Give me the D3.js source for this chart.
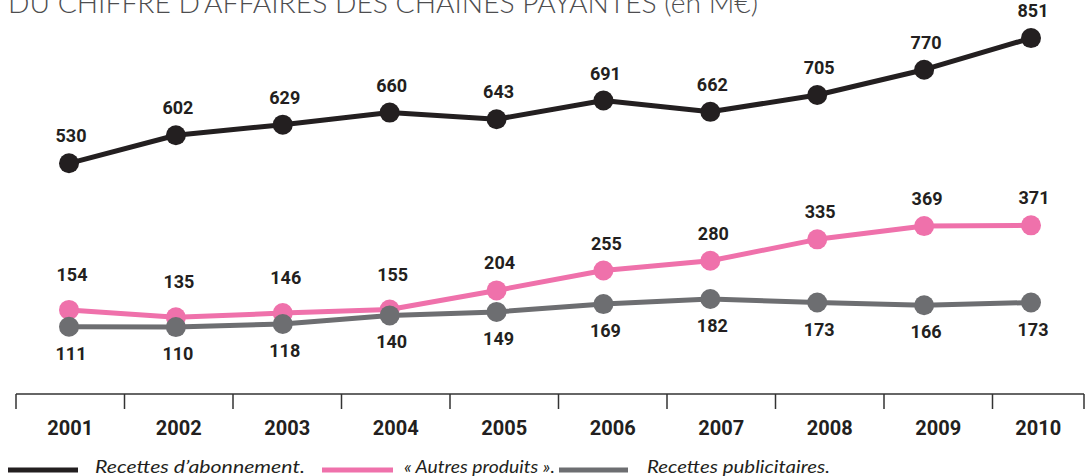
<!DOCTYPE html>
<html>
<head>
<meta charset="utf-8">
<script src="https://cdn.jsdelivr.net/npm/d3@7"></script>
<style>
  html, body { margin: 0; padding: 0; background: #fff; }
  svg { display: block; }
</style>
</head>
<body>
<svg id="chart" width="1087" height="476"></svg>
<script>
// Chiffre d'affaires des chaînes payantes, 2001-2010 (M€)
const years = [2001, 2002, 2003, 2004, 2005, 2006, 2007, 2008, 2009, 2010];
const abonnement = [530, 602, 629, 660, 643, 691, 662, 705, 770, 851];
const autresProduits = [154, 135, 146, 155, 204, 255, 280, 335, 369, 371];
const publicite = [111, 110, 118, 140, 149, 169, 182, 173, 166, 173];
const titleText = "DU CHIFFRE D’AFFAIRES DES CHAÎNES PAYANTES (en M€)";
const legendLabels = ["Recettes d’abonnement.", "« Autres produits ».", "Recettes publicitaires."];

const INK = "#231f20", PINK = "#ef71ab", GREY = "#6d6e71";
const svg = d3.select("#chart");

const axisStart = 16, axisEnd = 1084, axisY = 394;
const xBand = d3.scaleBand().domain(years).range([axisStart, 1101]);
const xPoint = d3.scalePoint().domain(years).range([69, 1031]);
const y = d3.scaleLinear().domain([0, 900]).range([370, 19]);

// Title (partly clipped at the top edge)
const title = svg.append("text")
  .attr("x", 8).attr("y", 13)
  .attr("font-family", "Lato, 'Open Sans', sans-serif")
  .attr("font-weight", 300)
  .attr("font-size", 27)
  .attr("fill", "#4d4d4f")
  .text(titleText);
title.attr("textLength", 750).attr("lengthAdjust", "spacingAndGlyphs");

// Year axis: baseline, ticks at band boundaries, labels centred in each band
const axis = svg.append("g");
axis.append("line")
  .attr("x1", axisStart).attr("x2", axisEnd)
  .attr("y1", axisY).attr("y2", axisY)
  .attr("stroke", "#333").attr("stroke-width", 1.5);
const bounds = years.map(d => xBand(d)).concat([axisEnd]);
axis.selectAll("line.tick").data(bounds).join("line")
  .attr("class", "tick")
  .attr("x1", d => d).attr("x2", d => d)
  .attr("y1", axisY).attr("y2", axisY + 15)
  .attr("stroke", "#333").attr("stroke-width", 1.5);
axis.selectAll("text").data(years).join("text")
  .attr("x", d => (xBand(d) + Math.min(xBand(d) + xBand.bandwidth(), axisEnd)) / 2)
  .attr("y", 435)
  .attr("text-anchor", "middle")
  .attr("font-family", "Roboto, sans-serif")
  .attr("font-weight", 700)
  .attr("font-size", 20)
  .attr("fill", INK)
  .text(d => d);

// Series: lines with round markers and value labels
const line = d3.line().x(d => xPoint(d.year)).y(d => y(d.value));
const series = [
  { key: "abonnement", values: abonnement, color: INK, labelPos: "above" },
  { key: "autres", values: autresProduits, color: PINK, labelPos: "above" },
  { key: "pub", values: publicite, color: GREY, labelPos: "below" }
];

series.forEach(s => {
  const pts = s.values.map((v, i) => ({ year: years[i], value: v, i }));
  const g = svg.append("g").attr("class", "series-" + s.key);
  g.append("path")
    .datum(pts)
    .attr("d", line)
    .attr("fill", "none")
    .attr("stroke", s.color)
    .attr("stroke-width", 5)
    .attr("stroke-linejoin", "round");
  g.selectAll("circle").data(pts).join("circle")
    .attr("cx", d => xPoint(d.year))
    .attr("cy", d => y(d.value))
    .attr("r", 10)
    .attr("fill", s.color);
  s.g = g; s.pts = pts;
});

// Value labels drawn last so they sit above every line
series.forEach(s => {
  svg.append("g").selectAll("text").data(s.pts).join("text")
    .attr("x", d => xPoint(d.year) + (s.key === "autres" ? 3 : 2))
    .attr("y", d => {
      if (s.labelPos === "below") return y(d.value) + 33;
      // lift the pink labels where the grey series runs close underneath
      if (s.key === "autres" && d.value - publicite[d.i] < 50) return y(d.value) - 29;
      return y(d.value) - 21;
    })
    .attr("text-anchor", "middle")
    .attr("font-family", "Roboto, sans-serif")
    .attr("font-weight", 700)
    .attr("font-size", 18)
    .attr("fill", INK)
    .text(d => d.value);
});

// Legend
const legend = svg.append("g");
const legendItems = [
  { color: INK, x1: 8, x2: 78, tx: 95, tw: 210 },
  { color: PINK, x1: 322, x2: 393, tx: 404, tw: 151 },
  { color: GREY, x1: 559, x2: 628, tx: 647, tw: 183 }
];
legendItems.forEach((it, i) => {
  legend.append("line")
    .attr("x1", it.x1).attr("x2", it.x2)
    .attr("y1", 470).attr("y2", 470)
    .attr("stroke", it.color).attr("stroke-width", 5);
  legend.append("text")
    .attr("x", it.tx).attr("y", 473)
    .attr("font-family", "Lato, 'Open Sans', sans-serif")
    .attr("font-style", "italic")
    .attr("font-weight", 400)
    .attr("font-size", 17)
    .attr("fill", INK)
    .attr("textLength", it.tw)
    .attr("lengthAdjust", "spacingAndGlyphs")
    .text(legendLabels[i]);
});
</script>
</body>
</html>
